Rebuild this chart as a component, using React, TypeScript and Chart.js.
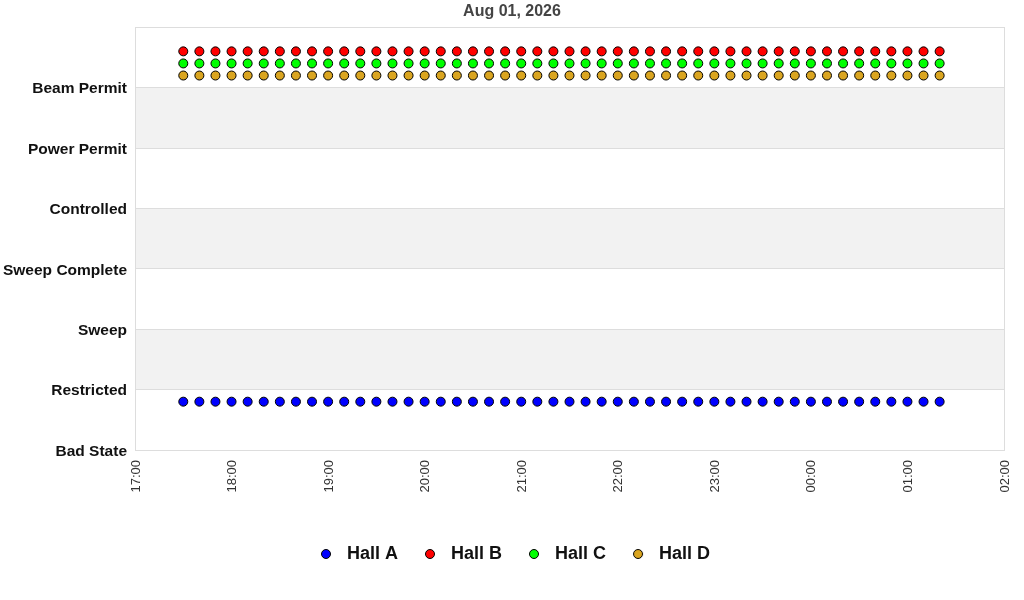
import React, { useEffect, useRef } from "react";
import { Chart, registerables } from "chart.js";

Chart.register(...registerables);

// state names, index = value on the y axis
const stateLabels = [
  "Bad State",
  "Restricted",
  "Sweep",
  "Sweep Complete",
  "Controlled",
  "Power Permit",
  "Beam Permit",
];

// sample times (10 min apart), Aug 01 evening into Aug 02
const sampleTimes = [
  "17:30", "17:40", "17:50", "18:00", "18:10", "18:20", "18:30", "18:40",
  "18:50", "19:00", "19:10", "19:20", "19:30", "19:40", "19:50", "20:00",
  "20:10", "20:20", "20:30", "20:40", "20:50", "21:00", "21:10", "21:20",
  "21:30", "21:40", "21:50", "22:00", "22:10", "22:20", "22:30", "22:40",
  "22:50", "23:00", "23:10", "23:20", "23:30", "23:40", "23:50", "00:00",
  "00:10", "00:20", "00:30", "00:40", "00:50", "01:00", "01:10", "01:20",
];

const xTickLabels = [
  "17:00", "18:00", "19:00", "20:00", "21:00", "22:00", "23:00", "00:00", "01:00", "02:00",
];

const hallA = [
  0, 0, 0, 0, 0, 0, 0, 0, 0, 0, 0, 0, 0, 0, 0, 0,
  0, 0, 0, 0, 0, 0, 0, 0, 0, 0, 0, 0, 0, 0, 0, 0,
  0, 0, 0, 0, 0, 0, 0, 0, 0, 0, 0, 0, 0, 0, 0, 0,
];
const hallB = [
  6, 6, 6, 6, 6, 6, 6, 6, 6, 6, 6, 6, 6, 6, 6, 6,
  6, 6, 6, 6, 6, 6, 6, 6, 6, 6, 6, 6, 6, 6, 6, 6,
  6, 6, 6, 6, 6, 6, 6, 6, 6, 6, 6, 6, 6, 6, 6, 6,
];
const hallC = [
  6, 6, 6, 6, 6, 6, 6, 6, 6, 6, 6, 6, 6, 6, 6, 6,
  6, 6, 6, 6, 6, 6, 6, 6, 6, 6, 6, 6, 6, 6, 6, 6,
  6, 6, 6, 6, 6, 6, 6, 6, 6, 6, 6, 6, 6, 6, 6, 6,
];
const hallD = [
  6, 6, 6, 6, 6, 6, 6, 6, 6, 6, 6, 6, 6, 6, 6, 6,
  6, 6, 6, 6, 6, 6, 6, 6, 6, 6, 6, 6, 6, 6, 6, 6,
  6, 6, 6, 6, 6, 6, 6, 6, 6, 6, 6, 6, 6, 6, 6, 6,
];

const hallNames = ["Hall A", "Hall B", "Hall C", "Hall D"];
const hallOffsets = [0.8, 0.6, 0.4, 0.2];
const hallColors = ["#0000ff", "#ff0000", "#00ff00", "#daa520"];

const FONT = "'Liberation Sans', Arial, sans-serif";

const toHours = (t: string) => {
  const [h, m] = t.split(":").map(Number);
  return (h < 12 ? h + 24 : h) + m / 60;
};

// small round legend marker, drawn as image so the text gap can be wider
const makeIcon = (color: string) => {
  const c = document.createElement("canvas");
  c.width = 12;
  c.height = 12;
  const g = c.getContext("2d")!;
  g.beginPath();
  g.arc(6, 6, 4.5, 0, Math.PI * 2);
  g.fillStyle = color;
  g.fill();
  g.lineWidth = 1;
  g.strokeStyle = "#000";
  g.stroke();
  return c;
};

const bandsPlugin = {
  id: "bands",
  beforeDraw(chart: any) {
    const { ctx, chartArea, scales } = chart;
    const y = scales.y;
    ctx.save();
    ctx.fillStyle = "#f2f2f2";
    for (let v = 1; v < 7; v += 2) {
      const top = y.getPixelForValue(v + 1);
      const bottom = y.getPixelForValue(v);
      ctx.fillRect(chartArea.left, top, chartArea.right - chartArea.left, bottom - top);
    }
    ctx.restore();
  },
  beforeDatasetsDraw(chart: any) {
    const { ctx, chartArea } = chart;
    ctx.save();
    ctx.strokeStyle = "#dddddd";
    ctx.lineWidth = 1;
    ctx.strokeRect(
      Math.round(chartArea.left) + 0.5,
      Math.round(chartArea.top) + 0.5,
      Math.round(chartArea.right - chartArea.left),
      Math.round(chartArea.bottom - chartArea.top)
    );
    ctx.restore();
  },
};

const App = () => {
  const chartRef = useRef<HTMLCanvasElement | null>(null);
  const chartInstance = useRef<Chart | null>(null);

  useEffect(() => {
    if (chartInstance.current) chartInstance.current.destroy();
    const ctx = chartRef.current?.getContext("2d");
    if (!ctx) return;

    const series = [hallA, hallB, hallC, hallD];
    const icons = hallColors.map(makeIcon);

    chartInstance.current = new Chart(ctx, {
      type: "scatter",
      data: {
        datasets: series.map((vals, i) => ({
          label: hallNames[i],
          data: vals.map((v, j) => ({ x: toHours(sampleTimes[j]), y: v + hallOffsets[i] })),
          backgroundColor: hallColors[i],
          borderColor: "#000000",
          borderWidth: 1,
          pointRadius: 4.5,
          pointHoverRadius: 4.5,
          pointStyle: "circle",
          showLine: false,
        })),
      },
      options: {
        responsive: true,
        maintainAspectRatio: false,
        animation: false,
        layout: { padding: { left: 0, right: 0, top: 0, bottom: 27 } },
        plugins: {
          title: {
            display: true,
            text: "Aug 01, 2026",
            color: "#444444",
            font: { family: FONT, size: 16, weight: "bold" },
            padding: { top: 2, bottom: 6 },
          },
          legend: {
            position: "bottom",
            labels: {
              usePointStyle: true,
              pointStyleWidth: 24,
              boxHeight: 12,
              padding: 20,
              color: "#111111",
              font: { family: FONT, size: 18, weight: "bold" },
              generateLabels: (chart: any) =>
                Chart.defaults.plugins.legend.labels
                  .generateLabels(chart)
                  .map((l: any, i: number) => ({ ...l, pointStyle: icons[i] })),
            },
          },
          tooltip: { enabled: false },
        },
        scales: {
          x: {
            type: "linear",
            min: 17,
            max: 26,
            afterFit: (scale: any) => {
              scale.height = 75;
              scale.paddingLeft = 0;
              scale.paddingRight = 0;
            },
            afterBuildTicks: (scale: any) => {
              scale.ticks = xTickLabels.map((_, i) => ({ value: 17 + i }));
            },
            ticks: {
              maxRotation: 90,
              minRotation: 90,
              padding: 10,
              labelOffset: 1,
              color: "#333333",
              font: { family: FONT, size: 13 },
              callback: (_v: any, i: number) => xTickLabels[i],
            },
            grid: { display: false, drawTicks: false },
            border: { display: true, color: "#dddddd" },
          },
          y: {
            type: "linear",
            min: 0,
            max: 7,
            afterFit: (scale: any) => {
              scale.width = 135;
            },
            ticks: {
              stepSize: 1,
              padding: 8,
              labelOffset: 1.5,
              color: "#111111",
              font: { family: FONT, size: 15.5, weight: "bold" },
              callback: (v: any) => stateLabels[v] ?? "",
            },
            grid: { color: "#dddddd", drawTicks: false },
            border: { display: true, color: "#dddddd" },
          },
          // empty right gutter
          yRight: {
            type: "linear",
            position: "right",
            display: true,
            afterFit: (scale: any) => {
              scale.width = 20;
            },
            ticks: { display: false },
            grid: { display: false, drawTicks: false },
            border: { display: false },
          },
        },
      },
      plugins: [bandsPlugin],
    });

    return () => {
      if (chartInstance.current) chartInstance.current.destroy();
    };
  }, []);

  return (
    <div style={{ position: "fixed", left: 0, top: 0, width: 1024, height: 600, background: "#fff" }}>
      <canvas ref={chartRef}></canvas>
    </div>
  );
};

export default App;
